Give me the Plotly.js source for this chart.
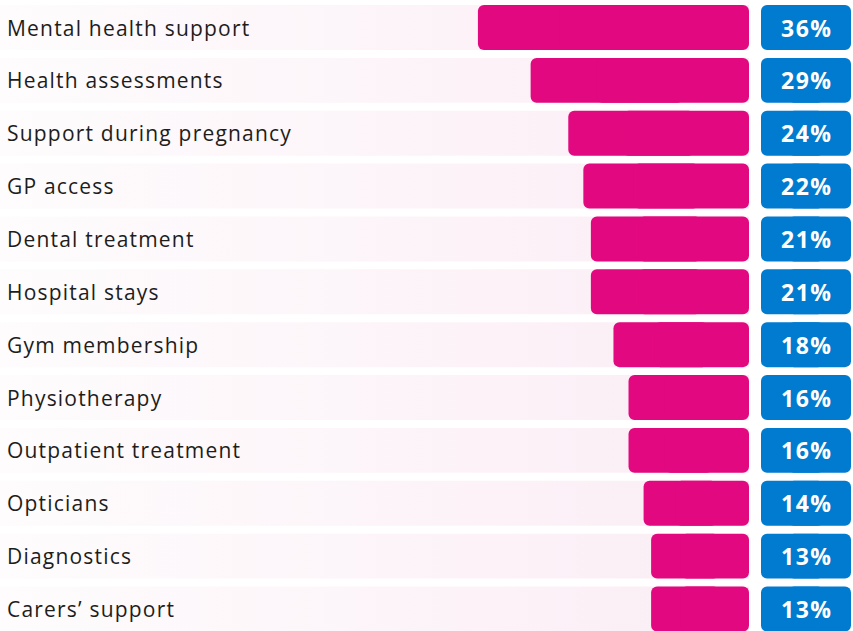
<!DOCTYPE html>
<html>
<head>
<meta charset="utf-8">
<script src="https://cdn.plot.ly/plotly-3.0.1.min.js"></script>
<style>html,body{margin:0;padding:0;background:#fff;}#chart{width:853px;height:631px;}</style>
</head>
<body>
<div id="chart"></div>
<script>
const categories = ["Mental health support","Health assessments","Support during pregnancy","GP access","Dental treatment","Hospital stays","Gym membership","Physiotherapy","Outpatient treatment","Opticians","Diagnostics","Carers\u2019 support"];
const values = [36,29,24,22,21,21,18,16,16,14,13,13];
const valueLabels = ["36%","29%","24%","22%","21%","21%","18%","16%","16%","14%","13%","13%"];

const W = 853, H = 631;
const pxPerUnit = 7.53;
const barRight = 749;
const xMax = barRight / pxPerUnit;
const rowPitch = 52.86, firstCenter = 27.5;
const yTop = -firstCenter / rowPitch;
const yBottom = (categories.length - 1) + (H - (firstCenter + (categories.length - 1) * rowPitch)) / rowPitch;
const barWidth = 0.85;
const idx = categories.map((c, i) => i);
const FONT = "'Open Sans', sans-serif";

const traces = [];
// gradient background bands (base subplot)
idx.forEach(i => {
  traces.push({
    type: "scatter", mode: "none", xaxis: "x", yaxis: "y",
    x: [xMax, 0, 0, xMax, xMax],
    y: [i - barWidth / 2, i - barWidth / 2, i + barWidth / 2, i + barWidth / 2, i - barWidth / 2],
    fill: "toself",
    fillgradient: { type: "horizontal", colorscale: [[0, "#fefcfd"], [1, "#fbedf5"]] },
    hoverinfo: "skip", showlegend: false
  });
});
// bars drawn as two overlapping pieces so both ends get rounded corners
function roundedPair(vals, axisX, color) {
  const a = {
    type: "bar", orientation: "h", xaxis: axisX, yaxis: "y2",
    base: vals.map(v => v * 0.3), x: vals.map(v => v * 0.7), y: idx, width: barWidth,
    marker: { color: color, cornerradius: 6, line: { width: 0 } },
    hoverinfo: "skip", showlegend: false
  };
  const b = {
    type: "bar", orientation: "h", xaxis: axisX, yaxis: "y2",
    base: vals.map(v => v * 0.7), x: vals.map(v => -v * 0.7), y: idx, width: barWidth,
    marker: { color: color, cornerradius: 6, line: { width: 0 } },
    hoverinfo: "skip", showlegend: false
  };
  return [a, b];
}
roundedPair(values, "x2", "#e2087f").forEach(t => traces.push(t));
roundedPair(idx.map(() => 1), "x3", "#007bcf").forEach(t => traces.push(t));

const hidden = { visible: false, showgrid: false, zeroline: false, fixedrange: true };
const layout = {
  width: W, height: H,
  barmode: "overlay",
  margin: { l: 0, r: 0, t: 0, b: 0, pad: 0 },
  paper_bgcolor: "#ffffff", plot_bgcolor: "rgba(0,0,0,0)",
  showlegend: false,
  xaxis: Object.assign({ range: [xMax, 0], domain: [0, barRight / W], anchor: "y" }, hidden),
  xaxis2: Object.assign({ range: [xMax, 0], domain: [0, barRight / W], overlaying: "x", anchor: "y2" }, hidden),
  xaxis3: Object.assign({ range: [0, 1], domain: [761 / W, 851 / W], anchor: "y2" }, hidden),
  yaxis: Object.assign({ range: [yBottom, yTop], anchor: "x" }, hidden),
  yaxis2: Object.assign({ range: [yBottom, yTop], overlaying: "y", anchor: "x2" }, hidden),
  annotations: categories.map((c, i) => ({
    text: '<span style="letter-spacing:1.2px">' + c + '</span>',
    xref: "paper", x: 0, xanchor: "left", xshift: 5,
    yref: "y", y: i, yanchor: "middle", showarrow: false,
    font: { family: FONT, size: 21, color: "#1d1d1b" }
  })).concat(valueLabels.map((t, i) => ({
    text: '<span style="letter-spacing:1.5px">' + t + '</span>',
    xref: "paper", x: 807 / W, xanchor: "center",
    yref: "y", y: i, yanchor: "middle", showarrow: false,
    font: { family: FONT, size: 23, color: "#ffffff", weight: 700 }
  }))),
  font: { family: FONT }
};
Plotly.newPlot("chart", traces, layout, { displayModeBar: false, staticPlot: true });
</script>
</body>
</html>
